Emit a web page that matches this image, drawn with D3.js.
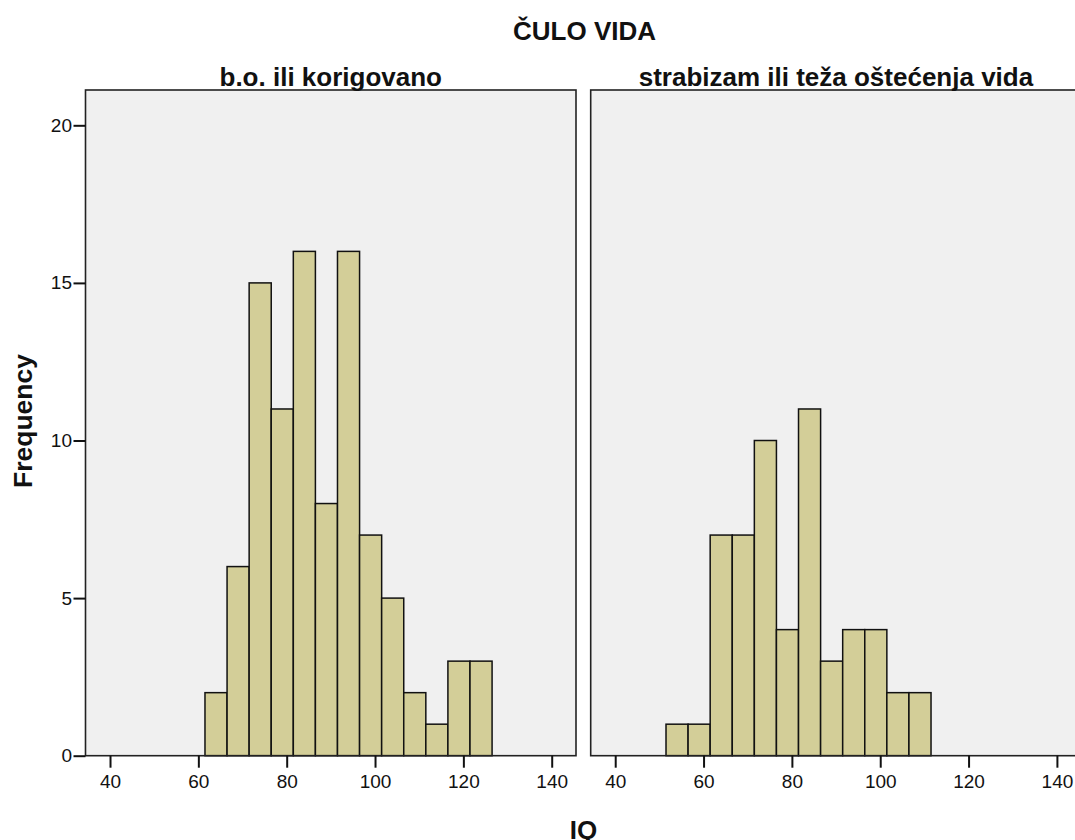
<!DOCTYPE html>
<html>
<head>
<meta charset="utf-8">
<script src="https://cdn.jsdelivr.net/npm/d3@7"></script>
<style>
  html, body { margin: 0; padding: 0; background: #fff; overflow: hidden; }
  svg { display: block; font-family: "Liberation Sans", Arial, sans-serif; }
</style>
</head>
<body>
<svg id="chart" width="1075" height="840"></svg>
<script>
// Histogram of IQ, split by vision status (ČULO VIDA)
const chartTitle = "ČULO VIDA";
const panelTitles = ["b.o. ili korigovano", "strabizam ili teža oštećenja vida"];
const binWidth = 5;
// lower edges of the first bin in each panel
const binStarts = [61.5, 51.5];
// frequencies per 5-point IQ bin
const countsNormal = [2, 6, 15, 11, 16, 8, 16, 7, 5, 2, 1, 3, 3];
const countsImpaired = [1, 1, 7, 7, 10, 4, 11, 3, 4, 4, 2, 2];
const xTicks = [40, 60, 80, 100, 120, 140];
const yTicks = [0, 5, 10, 15, 20];
const xLabel = "IQ";
const yLabel = "Frequency";

const svg = d3.select("#chart");

const panelW = 490.5, plotTop = 90, plotBottom = 755.7;
const panelLefts = [85.5, 590.7];
const xDomain = [34.45, 145.5];
const yDomain = [0, 21.12];

const y = d3.scaleLinear().domain(yDomain).range([plotBottom, plotTop]);

const seriesList = [countsNormal, countsImpaired];

seriesList.forEach((counts, i) => {
  const x0 = panelLefts[i];
  const x = d3.scaleLinear().domain(xDomain).range([x0, x0 + panelW]);
  const g = svg.append("g");

  // panel background
  g.append("rect")
    .attr("x", x0).attr("y", plotTop)
    .attr("width", panelW).attr("height", plotBottom - plotTop)
    .attr("fill", "#f0f0f0");

  // bars
  const bins = counts.map((c, k) => ({ lo: binStarts[i] + k * binWidth, c }));
  g.selectAll("rect.bar").data(bins).enter().append("rect")
    .attr("class", "bar")
    .attr("x", d => x(d.lo))
    .attr("y", d => y(d.c))
    .attr("width", d => x(d.lo + binWidth) - x(d.lo))
    .attr("height", d => y(0) - y(d.c))
    .attr("fill", "#d3ce98")
    .attr("stroke", "#111")
    .attr("stroke-width", 1.5);

  // frame
  g.append("rect")
    .attr("x", x0).attr("y", plotTop)
    .attr("width", panelW).attr("height", plotBottom - plotTop)
    .attr("fill", "none")
    .attr("stroke", "#222")
    .attr("stroke-width", 1.6);

  // x axis
  const xAxis = d3.axisBottom(x).tickValues(xTicks).tickSize(12).tickPadding(7).tickFormat(d3.format("d"));
  const xa = g.append("g").attr("transform", `translate(0,${plotBottom})`).call(xAxis);
  xa.select(".domain").remove();
  xa.selectAll(".tick line").attr("stroke", "#111").attr("stroke-width", 2);
  xa.selectAll(".tick text").attr("fill", "#111").style("font-size", "19px");

  // y axis (first panel only)
  if (i === 0) {
    const yAxis = d3.axisLeft(y).tickValues(yTicks).tickSize(12).tickPadding(1.5);
    const ya = g.append("g").attr("transform", `translate(${x0},0)`).call(yAxis);
    ya.select(".domain").remove();
    ya.selectAll(".tick line").attr("stroke", "#111").attr("stroke-width", 2);
    ya.selectAll(".tick text").attr("fill", "#111").style("font-size", "19px");
  }

  // panel title
  svg.append("text")
    .attr("x", x0 + panelW / 2).attr("y", 85.5)
    .attr("text-anchor", "middle")
    .style("font-size", "26px").style("font-weight", "bold")
    .attr("fill", "#111")
    .text(panelTitles[i]);
});

// overall title
svg.append("text")
  .attr("x", 584.5).attr("y", 40)
  .attr("text-anchor", "middle")
  .style("font-size", "26px").style("font-weight", "bold")
  .attr("fill", "#111")
  .text(chartTitle);

// axis titles
svg.append("text")
  .attr("transform", "translate(32,421) rotate(-90)")
  .attr("text-anchor", "middle")
  .style("font-size", "26.5px").style("font-weight", "bold")
  .attr("fill", "#111")
  .text(yLabel);

svg.append("text")
  .attr("x", 583.5).attr("y", 838.5)
  .attr("text-anchor", "middle")
  .style("font-size", "26px").style("font-weight", "bold")
  .attr("fill", "#111")
  .text(xLabel);
</script>
</body>
</html>
